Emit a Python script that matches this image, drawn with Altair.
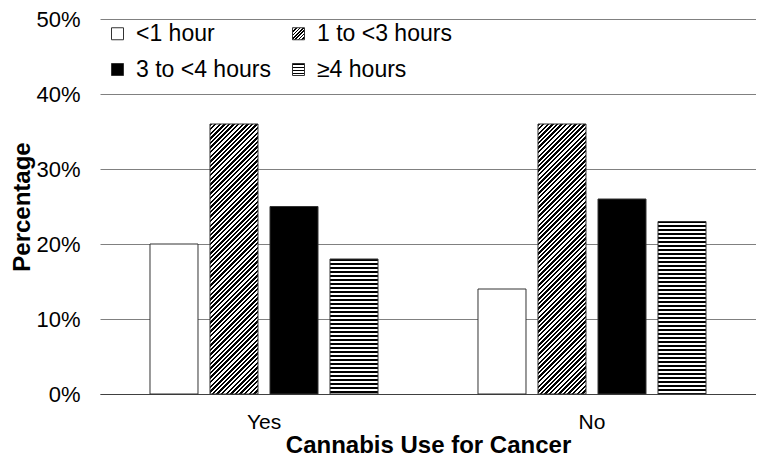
import json

import altair as alt
import pandas as pd

groups = ["Yes", "No"]
durations = ["<1 hour", "1 to <3 hours", "3 to <4 hours", "≥4 hours"]
yes_values = [20, 36, 25, 18]
no_values = [14, 36, 26, 23]
y_ticks = [0, 10, 20, 30, 40, 50]

# fill pattern for each duration, drawn as hard-stop linear gradients
patterns = ["white", "diag", "black", "hlines"]

PLOT_W, PLOT_H = 656, 375
PAD_TOP = 11
Y_MAX = 50
OFF_INNER, OFF_OUTER = 0.2, 0.833
FONT = "Liberation Sans"


def stripe_stops(n, frac):
    stops = []
    for k in range(n):
        a, b, c = k / n, (k + frac) / n, (k + 1) / n
        stops += [
            {"offset": round(a, 6), "color": "black"},
            {"offset": round(b, 6), "color": "black"},
            {"offset": round(b, 6), "color": "white"},
            {"offset": round(c, 6), "color": "white"},
        ]
    return stops


def pattern_expr(kind, w, h, top=0.0, diag_n=128, diag_period=4.6, line_n=64, line_period=4.0):
    # gradients live in the mark's bounding box; a fixed stripe count keeps the
    # stops evenly spread, and the vector may run past the mark
    if kind in ("white", "black"):
        return {"expr": json.dumps(kind)}
    if kind == "diag":
        length = diag_n * diag_period
        d = w * w + h * h
        grad = {
            "gradient": "linear",
            "x1": 0, "y1": 0,
            "x2": round(w * length / d, 6), "y2": round(h * length / d, 6),
            "stops": stripe_stops(diag_n, 0.5),
        }
    else:
        # start the stripes on a whole pixel row
        shift = (top % 1) / h
        grad = {
            "gradient": "linear",
            "x1": 0, "y1": round(-shift, 6), "x2": 0,
            "y2": round(line_n * line_period / h - shift, 6),
            "stops": stripe_stops(line_n, 0.5),
        }
    return {"expr": json.dumps(grad)}


rows = []
for g, vals in zip(groups, [yes_values, no_values]):
    for d, v in zip(durations, vals):
        rows.append({"Group": g, "Duration": d, "Value": v, "Key": f"{g}: {d}"})
df = pd.DataFrame(rows)

step = (PLOT_W / len(groups)) / (len(durations) - OFF_INNER + 2 * OFF_OUTER)
bar_w = step * (1 - OFF_INNER)
px_per = PLOT_H / Y_MAX

keys = list(df["Key"])
bar_fills = [
    pattern_expr(patterns[durations.index(d)], bar_w, v * px_per,
                 top=PAD_TOP + (Y_MAX - v) * px_per)
    for d, v in zip(df["Duration"], df["Value"])
]
legend_fills = [pattern_expr(p, 12, 12, diag_n=8, diag_period=3.4, line_n=4, line_period=3.0)
                for p in patterns]

base = alt.Chart(df).encode(
    x=alt.X("Group:N", sort=groups,
            scale=alt.Scale(paddingInner=0, paddingOuter=0),
            axis=alt.Axis(title="Cannabis Use for Cancer", labelAngle=0, ticks=False,
                          labelPadding=17, titlePadding=1, labelFontSize=21,
                          titleFontSize=24, domainColor="#404040", grid=False)),
    xOffset=alt.XOffset("Duration:N", sort=durations,
                        scale=alt.Scale(paddingInner=OFF_INNER, paddingOuter=OFF_OUTER)),
    y=alt.Y("Value:Q", scale=alt.Scale(domain=[0, Y_MAX], nice=False),
            axis=alt.Axis(title="Percentage", values=y_ticks, labelExpr="datum.value + '%'",
                          domain=False, ticks=False, labelPadding=20, titlePadding=1,
                          labelFontSize=22, titleFontSize=24, gridColor="#808080")),
)

bars = base.mark_bar(stroke="#333333", strokeWidth=1).encode(
    fill=alt.Fill("Key:N", scale=alt.Scale(domain=keys, range=bar_fills), legend=None)
)

legend_layer = base.mark_bar(stroke="#333333", strokeWidth=1).encode(
    fill=alt.Fill("Duration:N", sort=durations,
                  scale=alt.Scale(domain=durations, range=legend_fills),
                  legend=alt.Legend(title=None, orient="none", legendX=6, legendY=3,
                                    direction="horizontal", columns=2,
                                    symbolType="square", symbolSize=144,
                                    symbolStrokeColor="#333333", symbolStrokeWidth=1,
                                    labelFontSize=23, labelFont=FONT, labelColor="black",
                                    labelOffset=7, labelLimit=300, columnPadding=16,
                                    rowPadding=12, padding=0))
).transform_filter("false")

chart = alt.layer(bars, legend_layer).resolve_scale(fill="independent").properties(
    width=PLOT_W,
    height=PLOT_H,
    autosize=alt.AutoSizeParams(type="none"),
    padding={"left": 92, "top": PAD_TOP, "right": 0, "bottom": 62},
).configure_view(
    stroke=None
).configure_axis(
    labelFont=FONT, titleFont=FONT, labelColor="black", titleColor="black",
    titleFontWeight="bold", gridWidth=1
)

chart.save("out.html", embed_options={"renderer": "svg", "actions": False})
